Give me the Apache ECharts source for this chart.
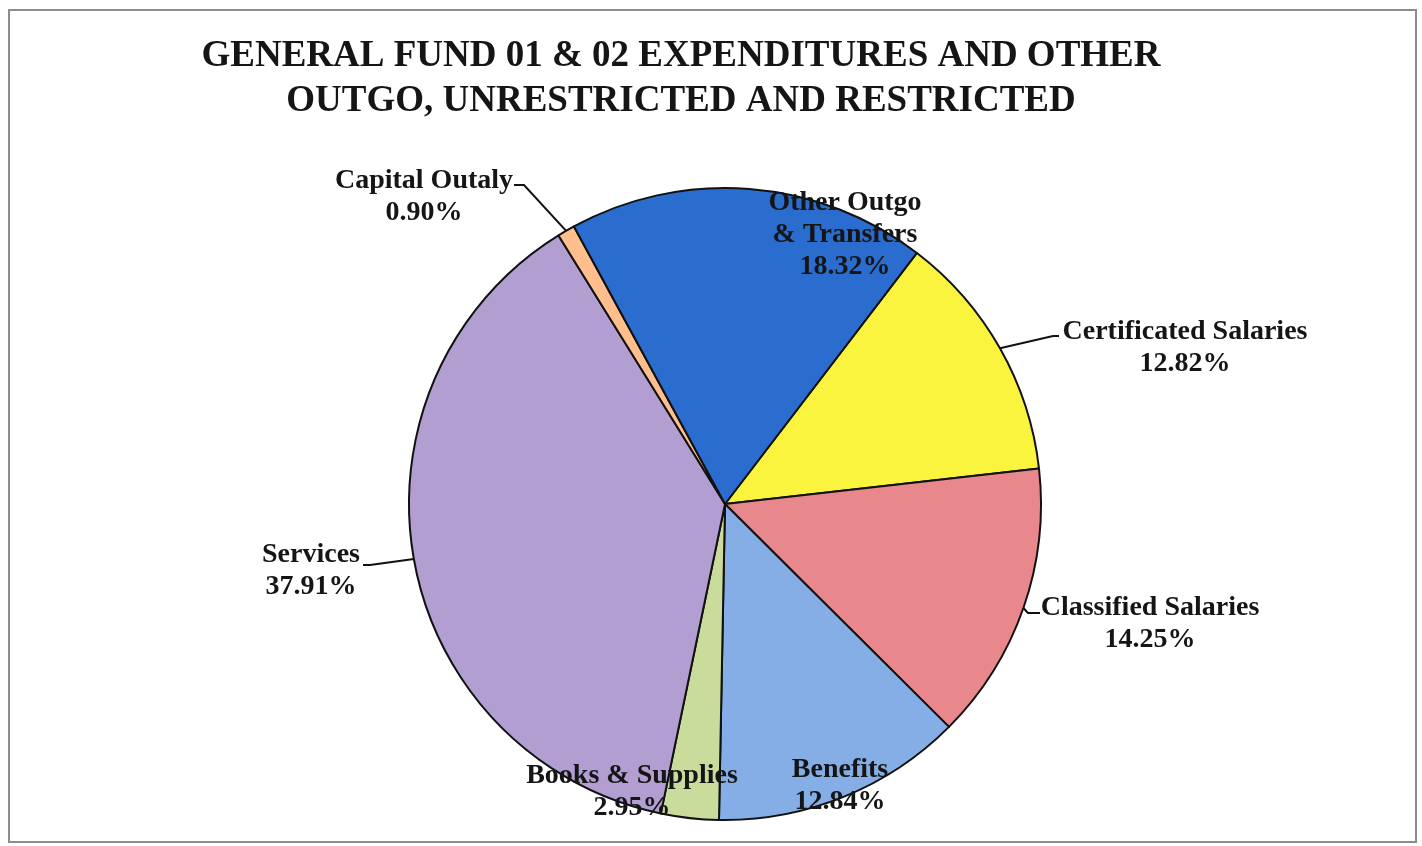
<!DOCTYPE html>
<html>
<head>
<meta charset="utf-8">
<script src="https://cdn.jsdelivr.net/npm/echarts@6/dist/echarts.min.js"></script>
<style>
html,body{margin:0;padding:0;background:#fff;}
#chart{width:1422px;height:846px;}
</style>
</head>
<body>
<div id="chart"></div>
<script>
// ---- data ----
const titleText = 'GENERAL FUND 01 & 02 EXPENDITURES AND OTHER\nOUTGO, UNRESTRICTED AND RESTRICTED';
const categories = ['Certificated Salaries', 'Classified Salaries', 'Benefits', 'Books & Supplies', 'Services', 'Capital Outaly', 'Other Outgo & Transfers'];
const labelNames = ['Certificated Salaries', 'Classified Salaries', 'Benefits', 'Books & Supplies', 'Services', 'Capital Outaly', 'Other Outgo\n& Transfers'];
const percents = [12.82, 14.25, 12.84, 2.95, 37.91, 0.90, 18.32];
const colors = ['#fbf43e', '#e8878c', '#86aee6', '#c9dc9c', '#b29ed0', '#ffbe8c', '#2a6dcf'];

// ---- label layout (annotation placement) ----
const labelPlace = {
  'Certificated Salaries': {x: 1185, y: 348, line: [[1053, 336], [1059, 336]]},
  'Classified Salaries':   {x: 1150, y: 624, line: [[1028, 613], [1040, 613]]},
  'Benefits':              {x: 840,  y: 786, line: null},
  'Books & Supplies':      {x: 632,  y: 792, line: null},
  'Services':              {x: 311,  y: 571, line: [[370, 565], [363, 565]]},
  'Capital Outaly':        {x: 424,  y: 197, line: [[524, 185], [514, 185]]},
  'Other Outgo & Transfers': {x: 845, y: 235, line: null}
};

const chart = echarts.init(document.getElementById('chart'), null, {renderer: 'canvas'});
const FONT = '"Liberation Serif", "Times New Roman", serif';

const pieData = categories.map((c, i) => ({
  name: c,
  value: percents[i],
  itemStyle: {color: colors[i]},
  labelLine: {show: !!labelPlace[c].line}
}));

chart.setOption({
  animation: false,
  backgroundColor: '#ffffff',
  graphic: [{
    type: 'rect',
    shape: {x: 9, y: 10, width: 1407, height: 832},
    style: {fill: 'none', stroke: '#8c8c8c', lineWidth: 2},
    silent: true,
    z: -10
  }],
  title: {
    text: titleText,
    left: 676,
    top: 29,
    textAlign: 'center',
    textStyle: {
      fontFamily: FONT,
      fontWeight: 'bold',
      fontSize: 37,
      lineHeight: 45,
      color: '#151515'
    }
  },
  series: [{
    type: 'pie',
    center: [725, 504],
    radius: 316,
    startAngle: 52.6,
    clockwise: true,
    data: pieData,
    itemStyle: {borderColor: '#111', borderWidth: 2},
    emphasis: {disabled: true},
    label: {
      show: true,
      position: 'outside',
      fontFamily: FONT,
      fontWeight: 'bold',
      fontSize: 28,
      lineHeight: 32,
      color: '#151515',
      align: 'center',
      formatter: function (p) {
        return labelNames[p.dataIndex] + '\n' + percents[p.dataIndex].toFixed(2) + '%';
      }
    },
    labelLine: {
      show: true,
      lineStyle: {color: '#111', width: 2}
    },
    labelLayout: function (params) {
      const name = categories[params.dataIndex];
      const lp = labelPlace[name];
      const out = {x: lp.x, y: lp.y, align: 'center', verticalAlign: 'middle', hideOverlap: false, moveOverlap: null};
      if (lp.line && params.labelLinePoints) {
        out.labelLinePoints = [params.labelLinePoints[0], lp.line[0], lp.line[1]];
      }
      return out;
    }
  }]
});
</script>
</body>
</html>
